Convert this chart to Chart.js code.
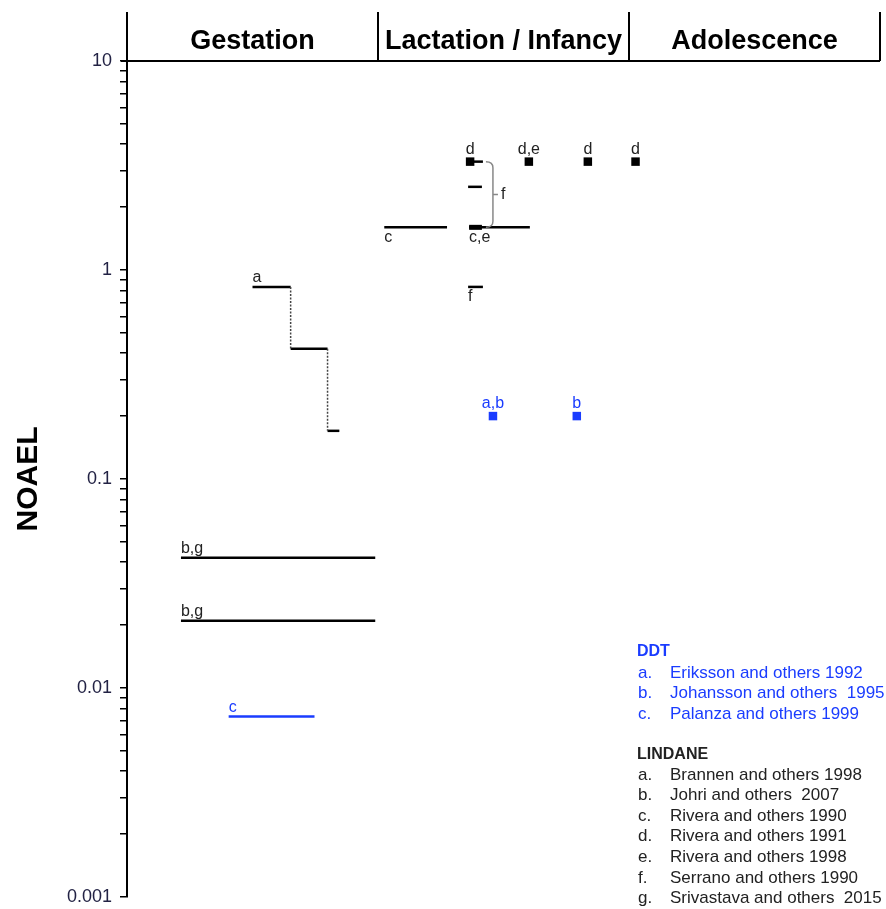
<!DOCTYPE html>
<html>
<head>
<meta charset="utf-8">
<script src="https://cdn.jsdelivr.net/npm/chart.js@4.4.0/dist/chart.umd.min.js"></script>
<style>
  html, body { margin: 0; padding: 0; background: #fff; }
  canvas { display: block; }
</style>
</head>
<body>
<canvas id="chart" width="886" height="909"></canvas>
<script>
// life stages along the x axis (one unit each)
const phases = ['Gestation', 'Lactation / Infancy', 'Adolescence'];
const yMajorTicks = [0.001, 0.01, 0.1, 1, 10];

// Lindane exposure windows: [start, end, NOAEL]
const lindaneWindows = [
  [0.50, 0.652, 0.83],
  [0.652, 0.799, 0.42],
  [0.799, 0.846, 0.17],
  [0.215, 0.989, 0.042],
  [0.215, 0.989, 0.021],
  [1.025, 1.275, 1.6],
  [1.363, 1.605, 1.6],
  [1.367, 1.418, 3.3],
  [1.359, 1.414, 2.5],
  [1.359, 1.418, 0.83]
];
// dotted drops of study a: [x, from, to]
const lindaneDrops = [[0.652, 0.83, 0.42], [0.799, 0.42, 0.17]];
const lindaneThick = [[1.363, 1.414, 1.6]];
// single-day doses: [x, NOAEL]
const lindaneDays = [[1.367, 3.3], [1.601, 3.3], [1.836, 3.3], [2.026, 3.3]];

const ddtWindows = [[0.405, 0.747, 0.0073]];
const ddtDays = [[1.458, 0.2], [1.792, 0.2]];

// study letters: [text, x, NOAEL]
const lindaneLabelsAbove = [['a', 0.50, 0.83], ['b,g', 0.215, 0.042], ['b,g', 0.215, 0.021]];
const lindaneLabelsTop = [['d', 1.367, 3.3], ['d,e', 1.601, 3.3], ['d', 1.836, 3.3], ['d', 2.026, 3.3]];
const lindaneLabelsBelow = [['c', 1.025, 1.6], ['c,e', 1.363, 1.6], ['f', 1.359, 0.83]];
const ddtLabelsAbove = [['c', 0.405, 0.0073]];
const ddtLabelsTop = [['a,b', 1.458, 0.2], ['b', 1.792, 0.2]];
// Serrano (f) bracket: [x, top, bottom]
const serranoBracket = [1.43, 3.3, 1.6];

const ddtStudies = ['Eriksson and others 1992', 'Johansson and others  1995', 'Palanza and others 1999'];
const lindaneStudies = ['Brannen and others 1998', 'Johri and others  2007', 'Rivera and others 1990',
  'Rivera and others 1991', 'Rivera and others 1998', 'Serrano and others 1990', 'Srivastava and others  2015'];
const letters = ['a', 'b', 'c', 'd', 'e', 'f', 'g'];

const BLACK = '#000';
const BLUE = '#1a3cff';
const FONT = '"Liberation Sans", Arial, sans-serif';

function windowSet(w, color, width) {
  return {
    type: 'line',
    data: [{ x: w[0], y: w[2] }, { x: w[1], y: w[2] }],
    borderColor: color,
    borderWidth: width,
    pointRadius: 0,
    fill: false
  };
}

function dropSet(d) {
  return {
    type: 'line',
    data: [{ x: d[0], y: d[1] }, { x: d[0], y: d[2] }],
    borderColor: '#444',
    borderWidth: 1.5,
    borderDash: [2, 1.5],
    pointRadius: 0,
    fill: false
  };
}

function daySet(pts, color) {
  return {
    type: 'scatter',
    data: pts.map(p => ({ x: p[0], y: p[1] })),
    pointStyle: 'rect',
    pointRadius: 6,
    backgroundColor: color,
    borderWidth: 0
  };
}

const datasets = [
  ...lindaneDrops.map(dropSet),
  ...lindaneWindows.map(w => windowSet(w, BLACK, 2.5)),
  ...lindaneThick.map(w => windowSet(w, BLACK, 5)),
  ...ddtWindows.map(w => windowSet(w, BLUE, 2.5)),
  daySet(lindaneDays, BLACK),
  daySet(ddtDays, BLUE)
];

const overlay = {
  id: 'overlay',
  afterDraw(chart) {
    const { ctx, chartArea: a, scales: { x, y } } = chart;
    ctx.save();

    // stage header
    ctx.strokeStyle = BLACK;
    ctx.lineWidth = 2;
    ctx.beginPath();
    for (let i = 0; i <= phases.length; i++) {
      const px = Math.round(x.getPixelForValue(i));
      ctx.moveTo(px, 12);
      ctx.lineTo(px, a.top);
    }
    ctx.moveTo(a.left - 6, a.top);
    ctx.lineTo(a.right, a.top);
    ctx.stroke();
    ctx.fillStyle = BLACK;
    ctx.font = 'bold 27px ' + FONT;
    ctx.textAlign = 'center';
    ctx.textBaseline = 'alphabetic';
    phases.forEach((p, i) => ctx.fillText(p, x.getPixelForValue(i + 0.5), 49));

    // study letters
    ctx.font = '16px ' + FONT;
    function put(list, color, mode) {
      ctx.fillStyle = color;
      list.forEach(([t, vx, vy]) => {
        const px = x.getPixelForValue(vx), py = y.getPixelForValue(vy);
        if (mode === 'above') { ctx.textAlign = 'left'; ctx.textBaseline = 'alphabetic'; ctx.fillText(t, px, py - 5); }
        if (mode === 'top') { ctx.textAlign = 'center'; ctx.textBaseline = 'alphabetic'; ctx.fillText(t, px, py - 8); }
        if (mode === 'below') { ctx.textAlign = 'left'; ctx.textBaseline = 'top'; ctx.fillText(t, px, py + 2); }
      });
    }
    put(lindaneLabelsAbove, '#222', 'above');
    put(lindaneLabelsTop, '#222', 'top');
    put(lindaneLabelsBelow, '#222', 'below');
    put(ddtLabelsAbove, BLUE, 'above');
    put(ddtLabelsTop, BLUE, 'top');

    // Serrano bracket
    const bx0 = x.getPixelForValue(serranoBracket[0]);
    const bx1 = bx0 + 7;
    const yt = y.getPixelForValue(serranoBracket[1]);
    const yb = y.getPixelForValue(serranoBracket[2]);
    const ym = (yt + yb) / 2;
    ctx.strokeStyle = '#888';
    ctx.lineWidth = 1.5;
    ctx.beginPath();
    ctx.moveTo(bx0, yt);
    ctx.quadraticCurveTo(bx1, yt, bx1, yt + 6);
    ctx.lineTo(bx1, yb - 6);
    ctx.quadraticCurveTo(bx1, yb, bx0, yb);
    ctx.moveTo(bx1, ym);
    ctx.lineTo(bx1 + 5, ym);
    ctx.stroke();
    ctx.fillStyle = '#222';
    ctx.textAlign = 'left';
    ctx.textBaseline = 'middle';
    ctx.fillText('f', bx1 + 8, ym);

    // reference list
    ctx.textBaseline = 'middle';
    ctx.fillStyle = BLUE;
    ctx.font = 'bold 16px ' + FONT;
    ctx.fillText('DDT', 637, 652);
    ctx.font = '17px ' + FONT;
    ddtStudies.forEach((s, i) => {
      ctx.fillText(letters[i] + '.', 638, 673 + i * 20.7);
      ctx.fillText(s, 670, 673 + i * 20.7);
    });
    ctx.fillStyle = '#222';
    ctx.font = 'bold 16px ' + FONT;
    ctx.fillText('LINDANE', 637, 755);
    ctx.font = '17px ' + FONT;
    lindaneStudies.forEach((s, i) => {
      ctx.fillText(letters[i] + '.', 638, 775 + i * 20.6);
      ctx.fillText(s, 670, 775 + i * 20.6);
    });
    ctx.restore();
  }
};

new Chart(document.getElementById('chart'), {
  type: 'scatter',
  data: { datasets: datasets },
  options: {
    responsive: false,
    animation: false,
    devicePixelRatio: 1,
    layout: { padding: { top: 61, bottom: 12, right: 4, left: 0 } },
    plugins: { legend: { display: false }, tooltip: { enabled: false } },
    scales: {
      x: { type: 'linear', min: 0, max: 3, display: false },
      y: {
        type: 'logarithmic',
        min: 0.001,
        max: 10,
        border: { display: true, color: BLACK, width: 2 },
        grid: { drawOnChartArea: false, drawTicks: true, tickLength: 7, color: BLACK, lineWidth: 1.5 },
        ticks: {
          autoSkip: false,
          color: '#222244',
          padding: 8,
          font: { size: 18, family: FONT },
          callback: v => yMajorTicks.includes(v) ? String(v) : ''
        },
        title: {
          display: true,
          text: 'NOAEL',
          color: BLACK,
          font: { size: 30, weight: 'bold', family: FONT },
          padding: { top: 11, bottom: 0 }
        },
        afterBuildTicks: scale => {
          const t = [];
          for (let e = -3; e <= 0; e++) {
            for (let m = 1; m < 10; m++) t.push({ value: m * Math.pow(10, e) });
          }
          t.push({ value: 10 });
          scale.ticks = t;
        },
        afterFit: scale => {
          scale.width = 127;
          scale.paddingTop = 0;
          scale.paddingBottom = 0;
        }
      }
    }
  },
  plugins: [overlay]
});
</script>
</body>
</html>
